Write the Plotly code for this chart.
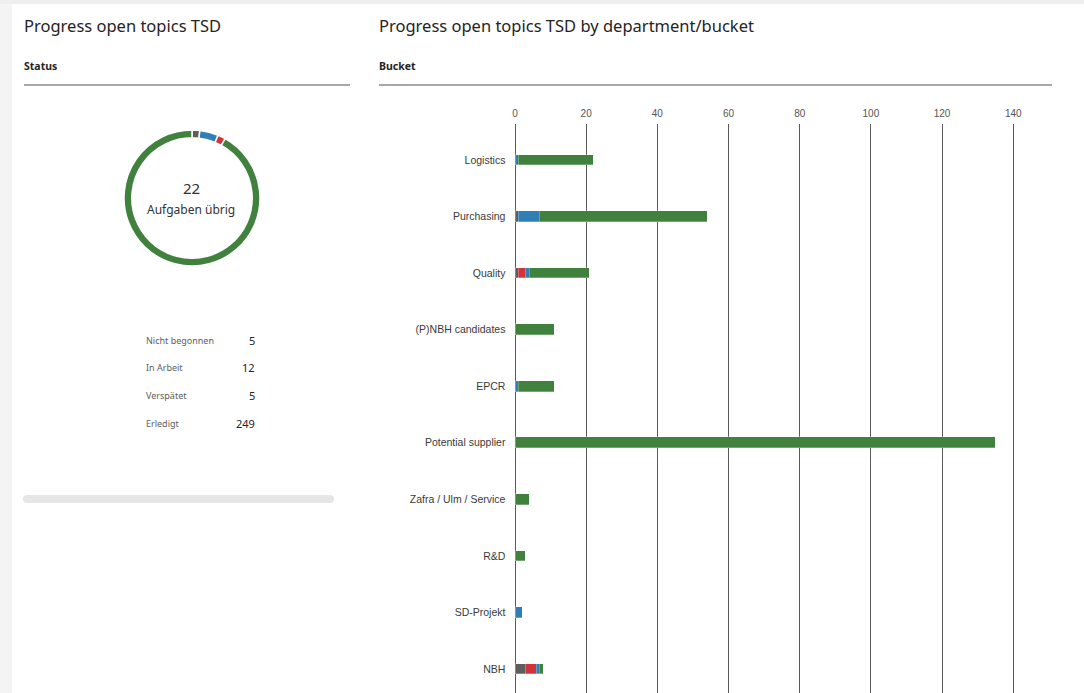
import plotly.graph_objects as go

W, H = 1084, 693

# ---------------- data ----------------
status_labels = ["Nicht begonnen", "In Arbeit", "Verspätet", "Erledigt"]
status_totals = [5, 12, 5, 249]
remaining = 22

buckets = ["Logistics", "Purchasing", "Quality", "(P)NBH candidates", "EPCR",
           "Potential supplier", "Zafra / Ulm / Service", "R&D", "SD-Projekt", "NBH"]
not_started = [0, 1, 1, 0, 0, 0, 0, 0, 0, 3]
late = [0, 0, 2, 0, 0, 0, 0, 0, 0, 3]
in_progress = [1, 6, 1, 0, 1, 0, 0, 0, 2, 1]
done = [21, 47, 17, 11, 10, 135, 4, 3, 0, 1]

x_ticks = [0, 20, 40, 60, 80, 100, 120, 140]

C_GRAY = "#605e5c"
C_RED = "#d13438"
C_BLUE = "#2f7eb6"
C_GREEN = "#41813e"
status_colors = [C_GRAY, C_BLUE, C_RED, C_GREEN]


def px(x):
    return x / W


def py(y):
    return 1 - y / H


fig = go.Figure()

# ---------------- donut ----------------
cx, cy, r = 192, 198, 68
donut_order = [0, 1, 2, 3]
fig.add_trace(go.Pie(
    labels=[status_labels[i] for i in donut_order],
    values=[status_totals[i] for i in donut_order],
    marker=dict(colors=[status_colors[i] for i in donut_order],
                line=dict(color="white", width=1.5)),
    hole=0.885, sort=False, direction="clockwise", rotation=0,
    textinfo="none", hoverinfo="label+value", showlegend=False,
    domain=dict(x=[px(cx - r), px(cx + r)], y=[py(cy + r), py(cy - r)]),
))

# ---------------- stacked bars ----------------
series = [("Nicht begonnen", not_started, C_GRAY),
          ("Verspätet", late, C_RED),
          ("In Arbeit", in_progress, C_BLUE),
          ("Erledigt", done, C_GREEN)]
for name, vals, col in series:
    fig.add_trace(go.Bar(
        y=buckets, x=vals, name=name, orientation="h",
        marker=dict(color=col, line=dict(color="rgba(255,255,255,0.45)", width=0.6)),
        width=0.19, showlegend=False, xaxis="x", yaxis="y",
    ))

# axis geometry (pixels)
x0_px, xscale = 515, 3.559
xmin, xmax = -1, 150
row0_px, row_step = 160, 56.56
top_px, bot_px = 124, 693

fig.update_layout(
    width=W, height=H,
    margin=dict(l=0, r=0, t=0, b=0),
    paper_bgcolor="white", plot_bgcolor="rgba(0,0,0,0)",
    barmode="stack",
    bargap=0,
    xaxis=dict(
        domain=[px(x0_px + xmin * xscale), px(x0_px + xmax * xscale)],
        range=[xmin, xmax], side="top",
        tickvals=x_ticks, ticktext=[str(t) for t in x_ticks],
        showgrid=True, gridcolor="#5a5a5a", gridwidth=1,
        zeroline=False, showline=False, ticks="",
        tickfont=dict(family="Liberation Sans, Arial", size=10, color="#555555"),
        ticklabelstandoff=4,
        fixedrange=True,
    ),
    yaxis=dict(
        domain=[py(bot_px), py(top_px)],
        range=[(bot_px - row0_px) / row_step, (top_px - row0_px) / row_step],
        type="category", categoryorder="array", categoryarray=buckets,
        showgrid=False, zeroline=False, showline=False, ticks="",
        tickfont=dict(family="Liberation Sans, Arial", size=10.5, color="#3a3a3a"),
        ticklabelstandoff=5,
        fixedrange=True,
    ),
)

shapes = []
annotations = []

# background shadow hints
shapes.append(dict(type="rect", xref="paper", yref="paper", x0=0, x1=px(12),
                   y0=0, y1=1, fillcolor="#f4f4f4", line=dict(width=0), layer="below"))
shapes.append(dict(type="rect", xref="paper", yref="paper", x0=0, x1=1,
                   y0=py(4), y1=1, fillcolor="#efefef", line=dict(width=0), layer="below"))

# header rules
for x_a, x_b in [(24, 350), (379, 1052)]:
    shapes.append(dict(type="line", xref="paper", yref="paper",
                       x0=px(x_a), x1=px(x_b), y0=py(85), y1=py(85),
                       line=dict(color="#8a8a8a", width=1.5)))

# scrollbar-like bar
shapes.append(dict(type="rect", xref="paper", yref="paper",
                   x0=px(27), x1=px(330), y0=py(503), y1=py(495),
                   fillcolor="#e6e6e6", line=dict(width=0)))
for xc in (27, 330):
    shapes.append(dict(type="circle", xref="paper", yref="paper",
                       x0=px(xc - 4), x1=px(xc + 4), y0=py(503), y1=py(495),
                       fillcolor="#e6e6e6", line=dict(width=0)))

TITLE_FONT = "Segoe UI, Noto Sans, Open Sans, sans-serif"


def text(x, y, s, size, color="#252423", xanchor="left", family=TITLE_FONT, bold=False):
    annotations.append(dict(
        x=px(x), y=py(y), xref="paper", yref="paper", text=f"<b>{s}</b>" if bold else s,
        showarrow=False, xanchor=xanchor, yanchor="middle",
        font=dict(family=family, size=size, color=color)))


text(22, 26, "Progress open topics TSD", 16.5)
text(377, 26, "Progress open topics TSD by department/bucket", 16.5)
text(22, 66, "Status", 10.5, bold=True)
text(377, 66, "Bucket", 10.5, bold=True)

# donut centre
text(cx - 1, 188, str(remaining), 15, color="#333333", xanchor="center")
text(cx - 1, 210, "Aufgaben übrig", 12, color="#333333", xanchor="center")

# status table
for i, (lab, val) in enumerate(zip(status_labels, status_totals)):
    yy = 340 + i * 27.7
    text(144, yy, lab, 9, color="#605e5c")
    text(257, yy, str(val), 11, color="#252423", xanchor="right")

fig.update_layout(shapes=shapes, annotations=annotations)

fig.write_html(
    "out.html",
    config={"displayModeBar": False},
    post_script="document.body.style.margin='0';document.body.style.padding='0';",
)
